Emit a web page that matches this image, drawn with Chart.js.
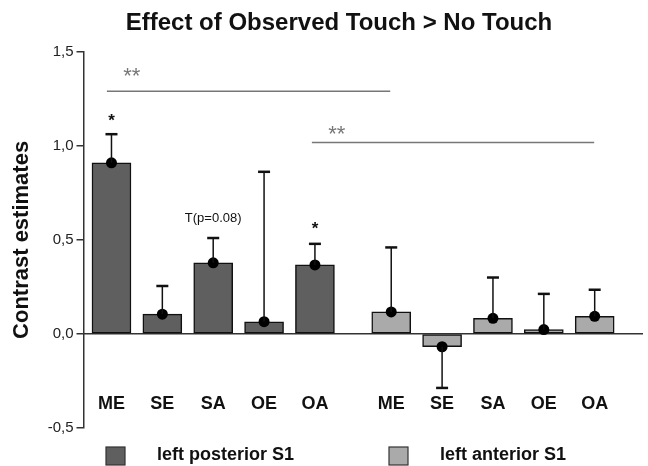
<!DOCTYPE html>
<html>
<head>
<meta charset="utf-8">
<script src="https://cdn.jsdelivr.net/npm/chart.js@4"></script>
<style>
  html, body { margin: 0; padding: 0; background: #fff; }
  #wrap { width: 648px; height: 466px; }
</style>
</head>
<body>
<div id="wrap"><canvas id="chart"></canvas></div>
<script>
const conditions = ['ME', 'SE', 'SA', 'OE', 'OA'];
const posteriorMeans = [0.91, 0.105, 0.378, 0.065, 0.367];
const posteriorErrors = [0.152, 0.15, 0.132, 0.797, 0.112];
const anteriorMeans = [0.117, -0.068, 0.083, 0.023, 0.094];
const anteriorErrors = [0.343, 0.219, 0.217, 0.19, 0.141];
const yTicks = [-0.5, 0, 0.5, 1, 1.5];

// significance brackets and notes, in data units
const sigBrackets = [
  { from: 0.91, to: 6.48, y: 1.29, text: '**', tx: 1.4, ty: 1.385 },
  { from: 4.94, to: 10.49, y: 1.018, text: '**', tx: 5.43, ty: 1.08 }
];
const barNotes = [
  { x: 1, y: 1.145, text: '*' },
  { x: 3, y: 0.613, text: 'T(p=0.08)' },
  { x: 5, y: 0.571, text: '*' }
];

// second region sits one and a half slots after the first
const posteriorX = conditions.map((c, i) => i + 1);
const anteriorX = conditions.map((c, i) => i + 6.5);
const allX = posteriorX.concat(anteriorX);
const allLabels = conditions.concat(conditions);

const toPoints = (xs, ys) => xs.map((x, i) => ({ x: x, y: ys[i] }));
const FONT = '"Liberation Sans", Arial, sans-serif';

const errorBars = {
  id: 'errorBars',
  afterDatasetsDraw(chart) {
    const { ctx, scales: { x, y } } = chart;
    ctx.save();
    ctx.strokeStyle = '#111';
    chart.data.datasets.forEach(ds => {
      if (!ds.errors) return;
      ds.data.forEach((p, i) => {
        const end = p.y >= 0 ? p.y + ds.errors[i] : p.y - ds.errors[i];
        const px = x.getPixelForValue(p.x);
        const y0 = y.getPixelForValue(p.y);
        const y1 = y.getPixelForValue(end);
        ctx.lineWidth = 1.5;
        ctx.beginPath();
        ctx.moveTo(px, y0);
        ctx.lineTo(px, y1);
        ctx.stroke();
        ctx.lineWidth = 2.5;
        ctx.beginPath();
        ctx.moveTo(px - 6, y1);
        ctx.lineTo(px + 6, y1);
        ctx.stroke();
      });
    });
    ctx.restore();
  }
};

const annotations = {
  id: 'annotations',
  afterDatasetsDraw(chart) {
    const { ctx, scales: { x, y } } = chart;
    ctx.save();
    ctx.textAlign = 'center';
    ctx.textBaseline = 'middle';
    sigBrackets.forEach(b => {
      ctx.strokeStyle = '#777';
      ctx.lineWidth = 1.5;
      ctx.beginPath();
      ctx.moveTo(x.getPixelForValue(b.from), y.getPixelForValue(b.y));
      ctx.lineTo(x.getPixelForValue(b.to), y.getPixelForValue(b.y));
      ctx.stroke();
      ctx.fillStyle = '#777';
      ctx.font = '22px ' + FONT;
      ctx.fillText(b.text, x.getPixelForValue(b.tx), y.getPixelForValue(b.ty) + 4);
    });
    barNotes.forEach(n => {
      ctx.fillStyle = '#111';
      if (n.text === '*') {
        ctx.font = 'bold 17px ' + FONT;
        ctx.fillText(n.text, x.getPixelForValue(n.x), y.getPixelForValue(n.y) + 3);
      } else {
        ctx.font = '13px ' + FONT;
        ctx.fillText(n.text, x.getPixelForValue(n.x), y.getPixelForValue(n.y));
      }
    });
    ctx.restore();
  }
};

const bottomLegend = {
  id: 'bottomLegend',
  afterDraw(chart) {
    const ctx = chart.ctx;
    const slots = [106, 389];
    ctx.save();
    chart.data.datasets.slice(0, 2).forEach((ds, i) => {
      ctx.fillStyle = ds.backgroundColor;
      ctx.fillRect(slots[i], 447, 19, 18);
      ctx.strokeStyle = '#333';
      ctx.lineWidth = 1.2;
      ctx.strokeRect(slots[i], 447, 19, 18);
      ctx.fillStyle = '#111';
      ctx.font = 'bold 18px ' + FONT;
      ctx.textBaseline = 'middle';
      ctx.textAlign = 'left';
      ctx.fillText(ds.label, slots[i] + 51, 455.5);
    });
    ctx.restore();
  }
};

new Chart(document.getElementById('chart'), {
  type: 'bar',
  data: {
    datasets: [
      {
        label: 'left posterior S1',
        data: toPoints(posteriorX, posteriorMeans),
        errors: posteriorErrors,
        backgroundColor: '#5f5f5f',
        borderColor: '#111',
        borderWidth: 1.5,
        borderSkipped: false,
        barThickness: 39,
        grouped: false,
        order: 2
      },
      {
        label: 'left anterior S1',
        data: toPoints(anteriorX, anteriorMeans),
        errors: anteriorErrors,
        backgroundColor: '#aaaaaa',
        borderColor: '#111',
        borderWidth: 1.5,
        borderSkipped: false,
        barThickness: 39,
        grouped: false,
        order: 2
      },
      {
        type: 'line',
        label: 'means',
        data: toPoints(allX, posteriorMeans.concat(anteriorMeans)),
        showLine: false,
        pointRadius: 5.5,
        pointBackgroundColor: '#000',
        pointBorderWidth: 0,
        order: 0
      }
    ]
  },
  options: {
    responsive: true,
    maintainAspectRatio: false,
    animation: false,
    layout: { padding: { left: 30, right: 0, top: 0, bottom: 38 } },
    plugins: {
      legend: { display: false },
      tooltip: { enabled: false },
      title: {
        display: true,
        text: 'Effect of Observed Touch > No Touch',
        color: '#111',
        font: { family: FONT, size: 24, weight: 'bold' },
        padding: { top: 9, bottom: 14 }
      }
    },
    scales: {
      x: {
        type: 'linear',
        offset: false,
        min: 0.45,
        max: 11.44,
        position: { y: 0 },
        grid: { display: false, drawTicks: false },
        border: { color: '#333', width: 1.5 },
        afterBuildTicks: s => { s.ticks = allX.map(v => ({ value: v })); },
        afterFit: s => { s.paddingLeft = 0; s.paddingRight = 0; },
        ticks: {
          autoSkip: false,
          maxRotation: 0,
          padding: 59,
          color: '#111',
          font: { family: FONT, size: 18, weight: 'bold' },
          callback: (v, i) => allLabels[i]
        }
      },
      y: {
        min: -0.5,
        max: 1.5,
        afterBuildTicks: s => { s.ticks = yTicks.map(v => ({ value: v })); },
        afterFit: s => { s.width = 53.5; },
        grid: { drawOnChartArea: false, tickLength: 7, color: '#333', lineWidth: 1.5 },
        border: { color: '#333', width: 1.5 },
        ticks: {
          padding: 3,
          color: '#222',
          font: { family: FONT, size: 15 },
          callback: v => v.toFixed(1).replace('.', ',')
        },
        title: {
          display: true,
          text: 'Contrast estimates',
          color: '#111',
          font: { family: FONT, size: 22, weight: 'bold' },
          padding: { top: -21, bottom: 0 }
        }
      }
    }
  },
  plugins: [errorBars, annotations, bottomLegend]
});
</script>
</body>
</html>
